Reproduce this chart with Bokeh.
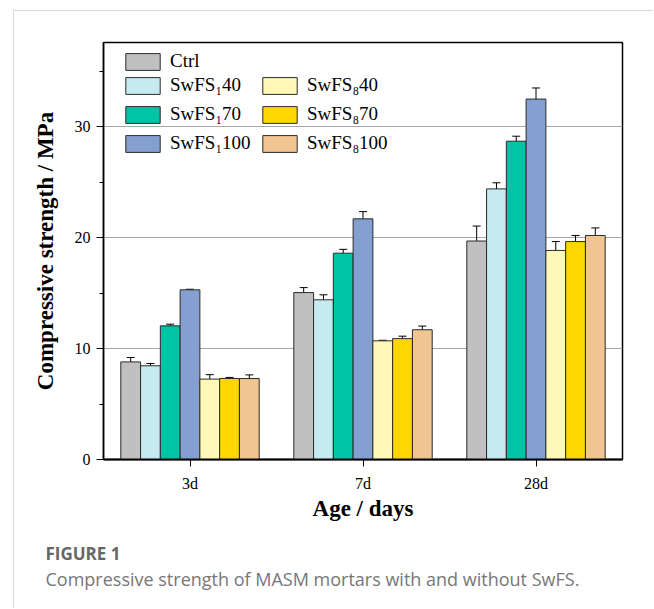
from bokeh.plotting import figure
from bokeh.models import (ColumnDataSource, FactorRange, Range1d, Whisker, Legend, LegendItem,
                          SingleIntervalTicker, Title, TeeHead)
from bokeh.transform import dodge
from bokeh.embed import file_html
from bokeh.resources import INLINE

ages = ["3d", "7d", "28d"]
series = ["Ctrl", "SwFS₁40", "SwFS₁70", "SwFS₁100", "SwFS₈40", "SwFS₈70", "SwFS₈100"]
colors = ["#C0C0C0", "#C5EAF0", "#00C4A6", "#84A0D0", "#FFF8B8", "#FFD700", "#F0C591"]

ctrl = [8.8, 15.05, 19.7]
ctrl_err = [0.4, 0.45, 1.35]
s1_40 = [8.45, 14.4, 24.4]
s1_40_err = [0.2, 0.45, 0.55]
s1_70 = [12.05, 18.6, 28.7]
s1_70_err = [0.15, 0.35, 0.45]
s1_100 = [15.3, 21.7, 32.5]
s1_100_err = [0.05, 0.65, 1.0]
s8_40 = [7.25, 10.7, 18.85]
s8_40_err = [0.4, 0.05, 0.8]
s8_70 = [7.3, 10.9, 19.65]
s8_70_err = [0.1, 0.22, 0.55]
s8_100 = [7.3, 11.7, 20.2]
s8_100_err = [0.33, 0.33, 0.68]

values = [ctrl, s1_40, s1_70, s1_100, s8_40, s8_70, s8_100]
errors = [ctrl_err, s1_40_err, s1_70_err, s1_100_err, s8_40_err, s8_70_err, s8_100_err]

SERIF = "Liberation Serif"
OX, OY = 14, 11  # offset of canvas inside the outer bordered box

p = figure(width=654 - OX, height=609 - OY, x_range=FactorRange(*ages), y_range=Range1d(0, 37.6),
           output_backend="svg", toolbar_location=None,
           min_border_left=103 - OX, min_border_right=32, min_border_top=42 - OY,
           min_border_bottom=150)
p.styles = {"margin-left": "13px", "margin-top": "10px",
            "border-left": "1px solid #dadada", "border-top": "1px solid #dadada"}

p.outline_line_color = "black"
p.outline_line_width = 1.5
p.outline_line_alpha = 1

bw = 0.8 / 7
renderers = []
for j, (name, col, vals, errs) in enumerate(zip(series, colors, values, errors)):
    src = ColumnDataSource(dict(age=ages, val=vals,
                                up=[v + e for v, e in zip(vals, errs)],
                                lo=[v - e for v, e in zip(vals, errs)]))
    off = (j - 3) * bw
    r = p.vbar(x=dodge("age", off, range=p.x_range), top="val", width=bw, source=src,
               fill_color=col, line_color="#2a2a2a", line_width=1)
    renderers.append(r)
    wk = Whisker(base=dodge("age", off, range=p.x_range), upper="up", lower="lo", source=src,
                 line_color="black", line_width=1,
                 upper_head=TeeHead(size=8, line_color="black", line_width=1),
                 lower_head=TeeHead(size=8, line_color="black", line_width=1))
    p.add_layout(wk)

# axes
p.yaxis.ticker = SingleIntervalTicker(interval=10, num_minor_ticks=2)
p.yaxis.axis_label = "Compressive strength / MPa"
p.xaxis.axis_label = "Age / days"
for ax in (p.xaxis, p.yaxis):
    ax.axis_label_text_font = SERIF
    ax.axis_label_text_font_style = "bold"
    ax.axis_label_text_font_size = "23px"
    ax.axis_label_text_color = "black"
    ax.major_label_text_font = SERIF
    ax.major_label_text_font_size = "16px"
    ax.major_label_text_color = "black"
    ax.axis_line_color = "black"
    ax.major_tick_line_color = "black"
    ax.minor_tick_line_color = "black"
    ax.major_tick_out = 7
    ax.major_tick_in = 0
    ax.minor_tick_out = 4
    ax.minor_tick_in = 0
p.xaxis.axis_line_width = 2
p.yaxis.axis_line_width = 1.5
p.xaxis.major_label_standoff = 8
p.yaxis.major_label_standoff = 6
p.xaxis.axis_label_standoff = 1
p.yaxis.axis_label_standoff = 14

p.xgrid.grid_line_color = None
p.ygrid.grid_line_color = "#a6a6a6"
p.ygrid.grid_line_width = 1.2

# legends
def make_legend(items, loc):
    lg = Legend(items=items, location=loc, orientation="vertical",
                label_text_font=SERIF, label_text_font_size="19px", label_text_color="black",
                glyph_width=43, glyph_height=21, label_height=21, label_standoff=6,
                spacing=7, padding=0, margin=0,
                border_line_color=None, background_fill_alpha=0)
    p.add_layout(lg, "center")
    return lg

make_legend([LegendItem(label=series[0], renderers=[renderers[0]])], (18, 387))
make_legend([LegendItem(label=series[k], renderers=[renderers[k]]) for k in (1, 2, 3)], (18, 305))
make_legend([LegendItem(label=series[k], renderers=[renderers[k]]) for k in (4, 5, 6)], (155, 305))

# caption
p.add_layout(Title(text="FIGURE 1", align="left", offset=-58, standoff=33,
                   text_font="Open Sans", text_font_size="17px", text_font_style="bold",
                   text_color="#676767"), "below")
p.add_layout(Title(text="Compressive strength of MASM mortars with and without SwFS.",
                   align="left", offset=-58, standoff=-30, vertical_align="top",
                   text_font="Open Sans", text_font_size="18px", text_font_style="normal",
                   text_color="#777777"), "below")

open("out.html", "w").write(file_html(p, INLINE))
